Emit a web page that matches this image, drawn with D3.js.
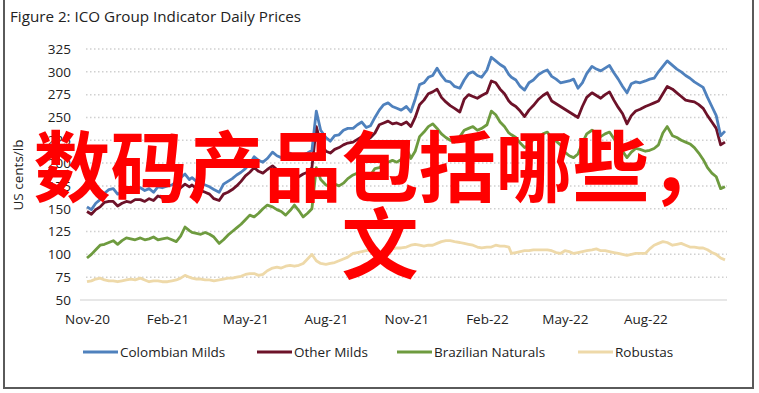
<!DOCTYPE html>
<html>
<head>
<meta charset="utf-8">
<script src="https://cdn.jsdelivr.net/npm/d3@7"></script>
<style>
  body { margin: 0; background: #fff; }
  svg { display: block; }
  .tick text { font-family: "Open Sans", sans-serif; }
</style>
</head>
<body>
<div id="chart"></div>
<script>
const months = [
  "2020-11","2020-12","2021-01","2021-02","2021-03","2021-04","2021-05","2021-06",
  "2021-07","2021-08","2021-09","2021-10","2021-11","2021-12","2022-01","2022-02",
  "2022-03","2022-04","2022-05","2022-06","2022-07","2022-08","2022-09","2022-10"
];
const sampleDays = ["01","06","11","16","21","26"];
const lastDate = "2022-10-31";

// one row per month, last value = 31 Oct 2022
const colombianMilds = [
  152,149,156,160,167,171,  172,166,168,171,169,172,  173,170,172,168,174,173,
  175,176,179,184,188,182,  184,180,178,176,174,171,  168,177,180,183,187,190,
  194,199,207,203,201,205,  212,208,206,209,211,207,  205,209,211,214,257,236,
  228,224,230,231,236,238,  238,242,245,239,241,250,  258,264,266,262,260,258,
  262,256,270,286,288,294,  296,304,296,290,289,284,  282,291,298,300,296,294,
  302,316,312,308,305,297,  294,291,284,280,288,291,  297,300,302,295,292,288,
  289,290,292,282,288,298,  306,303,301,304,307,299,  292,284,277,287,289,288,
  290,292,293,300,306,312,  307,303,300,296,293,289,  286,283,272,262,252,230,
  235
];
const otherMilds = [
  147,144,149,152,157,158,  158,153,156,158,157,160,  160,158,161,159,164,162,
  163,164,168,173,177,174,  176,172,170,168,166,161,  159,166,168,171,175,180,
  186,190,195,191,189,193,  197,193,191,189,188,185,  185,188,190,195,240,222,
  213,211,215,217,220,222,  223,226,229,225,228,233,  242,244,246,243,244,242,
  245,240,250,264,269,276,  278,281,272,267,263,260,  256,270,275,273,271,274,
  277,290,288,281,276,268,  265,262,257,251,258,263,  270,274,277,268,265,262,
  259,256,253,250,262,272,  277,274,271,275,278,269,  261,254,243,252,257,259,
  262,264,266,268,276,284,  281,277,273,269,268,267,  264,260,252,245,238,220,
  223
];
const brazilianNaturals = [
  96,100,105,110,111,113,   115,111,115,118,117,116,  118,116,117,119,116,117,
  118,116,114,120,130,126,  124,123,122,124,122,119,  112,116,121,125,129,133,
  138,143,141,145,150,154,  152,149,147,143,148,154,  148,141,145,150,195,182,
  176,174,177,175,178,183,  187,189,192,185,187,194,  195,199,201,203,201,204,
  217,205,213,229,234,240,  243,238,232,228,225,223,  229,236,238,240,236,238,
  242,257,253,245,240,233,  231,228,222,217,220,226,  228,232,234,227,224,220,
  212,208,206,210,222,232,  236,233,229,232,234,227,  218,213,206,212,216,215,
  213,214,216,220,233,240,  230,228,225,223,221,217,  211,204,195,189,185,172,
  174
];
const robustas = [
  70,71,73,74,72,71,        71,70,71,72,73,72,        74,72,70,71,71,70,
  70,71,72,74,77,75,        74,73,73,72,72,71,        72,73,74,74,75,76,
  78,79,79,77,78,82,        85,86,85,87,88,87,        88,90,95,100,93,90,
  89,90,91,93,95,97,        101,102,103,104,105,104,  102,103,104,106,107,107,
  108,110,111,110,109,110,  110,112,114,115,115,114,  113,112,111,110,108,107,
  108,108,110,109,109,108,  101,102,103,104,104,105,  105,105,105,104,102,101,
  104,103,101,102,103,104,  105,106,104,104,103,102,  101,100,99,100,101,101,
  101,106,110,112,114,113,  110,111,112,110,108,108,  107,107,105,102,100,96,
  94
];

const seriesNames = ["Colombian Milds", "Other Milds", "Brazilian Naturals", "Robustas"];
const seriesValues = [colombianMilds, otherMilds, brazilianNaturals, robustas];
const seriesColors = ["#4f81bd", "#6d1229", "#6e9b3f", "#eed9a9"];

const yTicks = [50, 75, 100, 125, 150, 175, 200, 225, 250, 275, 300, 325];
const xTickLabels = ["Nov-20","Feb-21","May-21","Aug-21","Nov-21","Feb-22","May-22","Aug-22"];
const xTickDates = ["2020-11-01","2021-02-01","2021-05-01","2021-08-01","2021-11-01","2022-02-01","2022-05-01","2022-08-01"];

const overlayLines = ["数码产品包括哪些，", "文"];

const width = 759, height = 393;
const parse = d3.timeParse("%Y-%m-%d");

const dates = months.flatMap(m => sampleDays.map(dd => parse(m + "-" + dd)));
dates.push(parse(lastDate));

const svg = d3.select("#chart").append("svg")
  .attr("width", width)
  .attr("height", height);

// outer frame
svg.append("rect")
  .attr("x", 4).attr("y", -2)
  .attr("width", 749).attr("height", 390)
  .attr("fill", "none")
  .attr("stroke", "#5a5a5a")
  .attr("stroke-width", 2);

svg.append("text")
  .attr("x", 10).attr("y", 22)
  .attr("font-family", "Open Sans, sans-serif")
  .attr("font-size", 15.2)
  .attr("fill", "#222")
  .text("Figure 2: ICO Group Indicator Daily Prices");

const x = d3.scaleTime()
  .domain([parse("2020-11-01"), parse(lastDate)])
  .range([87, 725]);
const y = d3.scaleLinear()
  .domain([50, 325])
  .range([300, 49]);

// dotted gridlines
svg.append("g")
  .selectAll("line")
  .data(yTicks.filter(d => d > 50))
  .join("line")
  .attr("x1", 86).attr("x2", 727)
  .attr("y1", d => y(d)).attr("y2", d => y(d))
  .attr("stroke", "#d0d0d0")
  .attr("stroke-width", 1.5)
  .attr("stroke-dasharray", "1.5,2.5");

// baseline
svg.append("line")
  .attr("x1", 80).attr("x2", 727)
  .attr("y1", y(50)).attr("y2", y(50))
  .attr("stroke", "#d0d0d0")
  .attr("stroke-width", 1.2);

// y axis labels
const yAxis = d3.axisLeft(y).tickValues(yTicks).tickSize(0).tickPadding(0);
svg.append("g")
  .attr("transform", "translate(71,0)")
  .call(yAxis)
  .call(g => g.select(".domain").remove())
  .call(g => g.selectAll("text").attr("font-size", 13.5).attr("fill", "#222"));

// x axis labels
const xAxis = d3.axisBottom(x)
  .tickValues(xTickDates.map(parse))
  .tickFormat((d, i) => xTickLabels[i])
  .tickSize(0).tickPadding(0);
svg.append("g")
  .attr("transform", "translate(0,314)")
  .call(xAxis)
  .call(g => g.select(".domain").remove())
  .call(g => g.selectAll("text").attr("font-size", 13.5).attr("fill", "#222"));

svg.append("text")
  .attr("transform", "translate(23,175) rotate(-90)")
  .attr("text-anchor", "middle")
  .attr("font-family", "Open Sans, sans-serif")
  .attr("font-size", 13.5)
  .attr("fill", "#222")
  .text("US cents/lb");

// series lines, drawn back to front so blue sits on top
const line = d3.line()
  .x((d, i) => x(dates[i]))
  .y(d => y(d));

const order = [3, 2, 1, 0];
svg.append("g")
  .selectAll("path")
  .data(order)
  .join("path")
  .attr("d", k => line(seriesValues[k]))
  .attr("fill", "none")
  .attr("stroke", k => seriesColors[k])
  .attr("stroke-width", 2.8)
  .attr("stroke-linejoin", "round");

// legend
const legendX = [83, 257, 397, 578];
const legend = svg.append("g")
  .selectAll("g")
  .data(seriesNames)
  .join("g")
  .attr("transform", (d, i) => `translate(${legendX[i]},352)`);
legend.append("line")
  .attr("x1", 0).attr("x2", 35)
  .attr("stroke", (d, i) => seriesColors[i])
  .attr("stroke-width", 3);
legend.append("text")
  .attr("x", 37).attr("dy", "0.35em")
  .attr("font-family", "Open Sans, sans-serif")
  .attr("font-size", 13.5)
  .attr("fill", "#222")
  .text(d => d);

// red overlay text
svg.append("g")
  .selectAll("text")
  .data(overlayLines)
  .join("text")
  .attr("x", 380)
  .attr("y", (d, i) => 196 + i * 77)
  .attr("text-anchor", "middle")
  .attr("font-family", "Noto Sans CJK SC, sans-serif")
  .attr("font-weight", "bold")
  .attr("font-size", 77)
  .attr("fill", "#ff0000")
  .text(d => d);
</script>
</body>
</html>
